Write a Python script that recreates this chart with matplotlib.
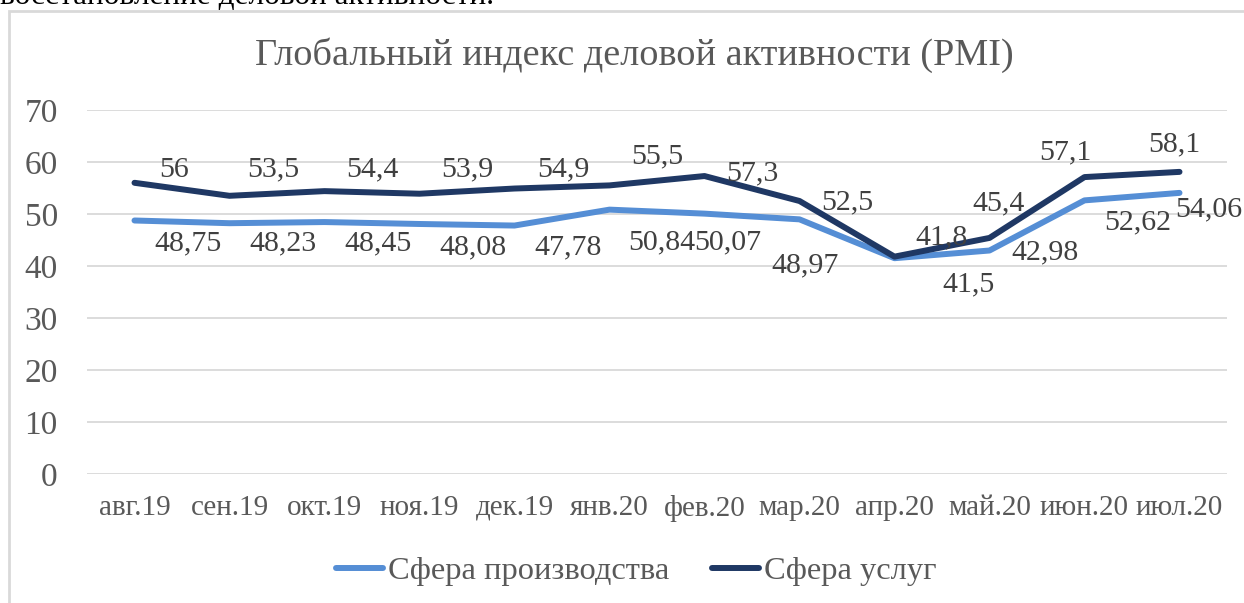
import matplotlib
matplotlib.use("Agg")
import matplotlib.pyplot as plt
from matplotlib.patches import Rectangle

categories = ["авг.19", "сен.19", "окт.19", "ноя.19", "дек.19", "янв.20",
              "фев.20", "мар.20", "апр.20", "май.20", "июн.20", "июл.20"]
manufacturing = [48.75, 48.23, 48.45, 48.08, 47.78, 50.84, 50.07, 48.97, 41.5, 42.98, 52.62, 54.06]
services = [56, 53.5, 54.4, 53.9, 54.9, 55.5, 57.3, 52.5, 41.8, 45.4, 57.1, 58.1]
yticks = [0, 10, 20, 30, 40, 50, 60, 70]
title = "Глобальный индекс деловой активности (PMI)"
series_names = ["Сфера производства", "Сфера услуг"]

# label placement (data coords, x position and y position of label centre)
serv_lab_x = [0.42, 1.46, 2.5, 3.5, 4.51, 5.5, 6.5, 7.5, 8.5, 9.1, 9.8, 10.95]
serv_lab_y = [58.5, 58.5, 58.5, 58.5, 58.5, 61.0, 57.9, 52.3, 45.6, 52.1, 61.9, 63.3]
man_lab_x = [0.56, 1.56, 2.56, 3.56, 4.56, 5.55, 6.24, 7.06, 8.78, 9.58, 10.56, 11.31]
man_lab_y = [44.4, 44.4, 44.4, 43.5, 43.5, 44.6, 44.6, 40.2, 36.5, 42.7, 48.3, 50.8]

plt.rcParams['font.family'] = ['Liberation Serif', 'DejaVu Serif']
TXT = "#595959"
C_MAN = "#558ED5"
C_SERV = "#1F3864"

W, H = 1244, 603
fig = plt.figure(figsize=(W / 100, H / 100), dpi=100)

# frame of the chart
fig.patches.append(Rectangle((9 / W, -0.01), (W - 9 + 10) / W, 1 - 11 / H + 0.01,
                             transform=fig.transFigure, fill=False,
                             edgecolor="#D9D9D9", linewidth=2))
# clipped text from document above
fig.text(0.0, 1 - 4 / H, "восстановление деловой активности.", ha="left",
         va="baseline", fontsize=22.5, color="black")

ax = fig.add_axes([87 / W, 1 - 474 / H, (1227 - 87) / W, (474 - 110) / H])
x = list(range(len(categories)))
ax.plot(x, manufacturing, color=C_MAN, lw=4.3, solid_capstyle="round",
        solid_joinstyle="round", label=series_names[0], zorder=3)
ax.plot(x, services, color=C_SERV, lw=4.3, solid_capstyle="round",
        solid_joinstyle="round", label=series_names[1], zorder=3)

ax.set_xlim(-0.5, len(categories) - 0.5)
ax.set_ylim(0, 70)
ax.set_yticks(yticks)
ax.set_yticklabels([str(v) for v in yticks])
ax.set_xticks(x)
ax.set_xticklabels(categories)
ax.tick_params(axis="y", length=0, pad=21, labelsize=24, labelcolor=TXT)
ax.tick_params(axis="x", length=0, pad=15, labelsize=21, labelcolor=TXT)
ax.grid(axis="y", color="#D9D9D9", lw=1.3)
ax.set_axisbelow(True)
for s in ax.spines.values():
    s.set_visible(False)

def fmt(v):
    s = ("%g" % v).replace(".", ",")
    return s

for i in x:
    ax.text(serv_lab_x[i], serv_lab_y[i], fmt(services[i]), ha="center",
            va="center", fontsize=21.5, color="#404040", zorder=4)
    ax.text(man_lab_x[i], man_lab_y[i], fmt(manufacturing[i]), ha="center",
            va="center", fontsize=21.5, color="#404040", zorder=4)

fig.text(634 / W, 1 - 55 / H, title, ha="center", va="center", fontsize=27.5,
         color=TXT)

leg = fig.legend(loc="center", bbox_to_anchor=(636 / W, 1 - 571 / H),
                 ncol=2, frameon=False, fontsize=23.4, handlelength=1.45,
                 handletextpad=0.15, columnspacing=1.3, labelcolor=TXT)

fig.savefig("out.png", dpi=100)
